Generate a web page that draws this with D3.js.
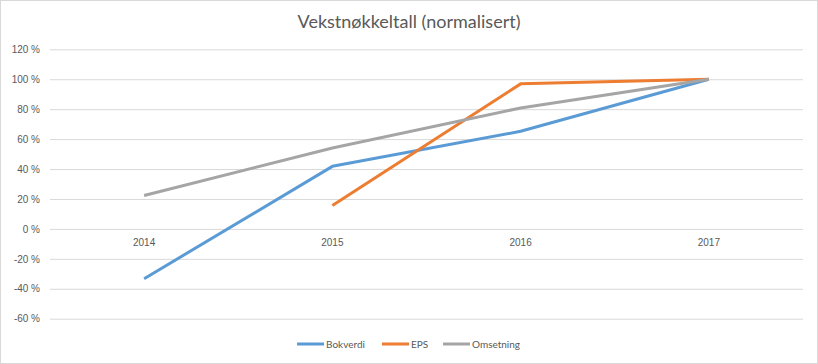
<!DOCTYPE html>
<html><head><meta charset="utf-8">
<script src="https://cdn.jsdelivr.net/npm/d3@7"></script>
<style>body{margin:0;background:#fff}svg{display:block;font-family:Lato,"Open Sans",sans-serif}</style>
</head><body><svg id="c" width="818" height="364"></svg>
<script>
const categories = ["2014","2015","2016","2017"];
const bokverdi = [-33.3, 41.8, 65.2, 100];
const eps = [null, 15.6, 96.9, 100];
const omsetning = [22.3, 54.1, 80.8, 100];
const yTicks = [-60,-40,-20,0,20,40,60,80,100,120];
const seriesNames = ["Bokverdi","EPS","Omsetning"];
const colors = ["#5B9BD5","#ED7D31","#A5A5A5"];
const title = "Vekstnøkkeltall (normalisert)";

const svg = d3.select("#c");
svg.append("rect").attr("x",0.5).attr("y",0.5).attr("width",817).attr("height",363)
  .attr("fill","#fff").attr("stroke","#D9D9D9");
const x = d3.scaleBand().domain(categories).range([50,803]);
const y = d3.scaleLinear().domain([-60,120]).range([318.7,49.3]);

svg.append("text").attr("x",409).attr("y",28).attr("text-anchor","middle")
  .attr("font-size",18).attr("fill","#595959").text(title);

const ya = svg.append("g").attr("transform","translate(50,0)")
  .call(d3.axisLeft(y).tickValues(yTicks).tickSize(-753).tickFormat(d=>d+" %"));
ya.select(".domain").remove();
ya.selectAll("line").attr("stroke","#D9D9D9");
ya.selectAll("text").attr("fill","#595959").attr("font-size",10).attr("x",-10);

const xa = svg.append("g").attr("transform",`translate(0,${y(0)})`)
  .call(d3.axisBottom(x).tickSize(0));
xa.select(".domain").remove();
xa.selectAll("text").attr("fill","#595959").attr("font-size",10).attr("dy","1.4em");

const data = [bokverdi, eps, omsetning];
const line = d3.line().defined(d=>d.v!==null).x(d=>x(d.c)+x.bandwidth()/2).y(d=>y(d.v));
data.forEach((s,i)=>{
  svg.append("path").datum(categories.map((c,j)=>({c, v:s[j]})))
    .attr("d",line).attr("fill","none").attr("stroke",colors[i])
    .attr("stroke-width",3).attr("stroke-linejoin","round");
});

const legX = [297,382,443];
seriesNames.forEach((n,i)=>{
  const g = svg.append("g").attr("transform",`translate(${legX[i]},344)`);
  g.append("line").attr("x1",0).attr("x2",27).attr("stroke",colors[i]).attr("stroke-width",3);
  g.append("text").attr("x",29).attr("y",4).attr("font-size",10).attr("fill","#595959").text(n);
});
</script></body></html>
